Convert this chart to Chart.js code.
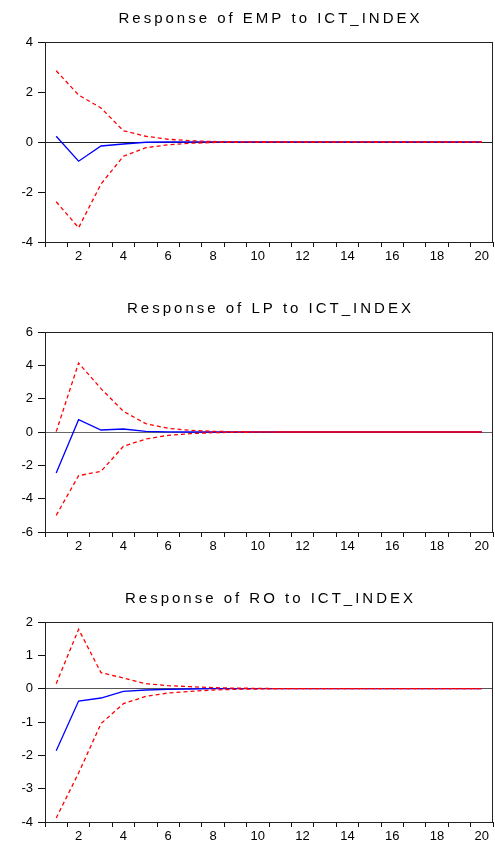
<!DOCTYPE html>
<html>
<head>
<meta charset="utf-8">
<script src="https://cdn.jsdelivr.net/npm/chart.js@4.4.1/dist/chart.umd.min.js"></script>
<style>
  html, body { margin: 0; padding: 0; background: #fff; }
  body { width: 495px; height: 842px; position: relative; overflow: hidden; }
  .panel { position: absolute; left: 0; width: 495px; }
</style>
</head>
<body>
<div class="panel" style="top:0;height:290px"><canvas id="c-emp"></canvas></div>
<div class="panel" style="top:290px;height:290px"><canvas id="c-lp"></canvas></div>
<div class="panel" style="top:580px;height:262px"><canvas id="c-ro"></canvas></div>
<script>
// Periods (horizon)
const periods = Array.from({ length: 20 }, (_, i) => String(i + 1));

// Response of EMP to ICT_INDEX
const empResp  = [0.23, -0.77, -0.16, -0.08, -0.01, 0, 0, 0, 0, 0, 0, 0, 0, 0, 0, 0, 0, 0, 0, 0];
const empUpper = [2.85, 1.88, 1.36, 0.45, 0.23, 0.11, 0.05, 0.02, 0.01, 0, 0, 0, 0, 0, 0, 0, 0, 0, 0, 0];
const empLower = [-2.39, -3.43, -1.68, -0.57, -0.23, -0.11, -0.05, -0.02, -0.01, 0, 0, 0, 0, 0, 0, 0, 0, 0, 0, 0];

// Response of LP to ICT_INDEX
const lpResp  = [-2.46, 0.74, 0.12, 0.18, 0.04, 0.01, 0, 0, 0, 0, 0, 0, 0, 0, 0, 0, 0, 0, 0, 0];
const lpUpper = [0.02, 4.14, 2.6, 1.24, 0.5, 0.22, 0.1, 0.04, 0.02, 0.01, 0, 0, 0, 0, 0, 0, 0, 0, 0, 0];
const lpLower = [-5.0, -2.62, -2.36, -0.86, -0.42, -0.2, -0.1, -0.04, -0.02, -0.01, 0, 0, 0, 0, 0, 0, 0, 0, 0, 0];

// Response of RO to ICT_INDEX
const roResp  = [-1.86, -0.37, -0.28, -0.08, -0.04, -0.02, -0.01, 0, 0, 0, 0, 0, 0, 0, 0, 0, 0, 0, 0, 0];
const roUpper = [0.15, 1.78, 0.48, 0.32, 0.15, 0.09, 0.06, 0.03, 0.015, 0.01, 0, 0, 0, 0, 0, 0, 0, 0, 0, 0];
const roLower = [-3.88, -2.53, -1.05, -0.45, -0.23, -0.13, -0.08, -0.04, -0.02, -0.01, 0, 0, 0, 0, 0, 0, 0, 0, 0, 0];

const FONT = '"Liberation Sans", Arial, sans-serif';

// Box round the plot area + spaced-out title (EViews style)
const framePlugin = {
  id: 'frame',
  beforeDatasetsDraw(chart) {
    const { ctx, chartArea: a } = chart;
    ctx.save();
    ctx.strokeStyle = '#222';
    ctx.lineWidth = 1;
    ctx.strokeRect(Math.round(a.left) + 0.5, Math.round(a.top) + 0.5,
      Math.round(a.right - a.left) - 1, Math.round(a.bottom - a.top));
    ctx.restore();
  },
  afterDraw(chart, args, opts) {
    const { ctx, chartArea: a } = chart;
    ctx.save();
    ctx.font = '15px ' + FONT;
    ctx.fillStyle = '#000';
    ctx.letterSpacing = '3px';
    ctx.textAlign = 'center';
    ctx.textBaseline = 'alphabetic';
    ctx.fillText(opts.text, (a.left + a.right) / 2 + 1.5, a.top - 19);
    ctx.restore();
  }
};

function makeChart(id, title, resp, upper, lower, yMin, yMax, step, xHeight, zeroColor) {
  const dashed = {
    borderColor: '#ff0000', borderWidth: 1.3, borderDash: [4, 3],
    pointRadius: 0, tension: 0, fill: false, order: 0
  };
  return new Chart(document.getElementById(id), {
    type: 'line',
    data: {
      labels: periods,
      datasets: [
        { data: resp, borderColor: '#0000ff', borderWidth: 1.3, pointRadius: 0, tension: 0, fill: false, order: 1 },
        { ...dashed, data: upper },
        { ...dashed, data: lower }
      ]
    },
    options: {
      responsive: true,
      maintainAspectRatio: false,
      animation: false,
      events: [],
      layout: { padding: { left: 0, right: 2, top: 42, bottom: 0 } },
      plugins: {
        legend: { display: false },
        tooltip: { enabled: false },
        title: { display: false },
        frame: { text: title }
      },
      scales: {
        x: {
          offset: true,
          grid: { offset: true, drawOnChartArea: false, drawTicks: true, tickLength: 5, tickColor: '#111' },
          border: { display: true, color: '#111' },
          ticks: {
            autoSkip: false, maxRotation: 0, padding: 2, color: '#000',
            font: { family: FONT, size: 13 },
            callback: (v, i) => ((i + 1) % 2 === 0 ? periods[i] : '')
          },
          afterFit: s => { s.height = xHeight; }
        },
        y: {
          min: yMin, max: yMax,
          grid: {
            drawTicks: true, tickLength: 7, tickColor: '#111',
            color: c => (c.tick && c.tick.value === 0 ? zeroColor : 'rgba(0,0,0,0)')
          },
          border: { display: true, color: '#111' },
          ticks: { stepSize: step, padding: 5, color: '#000', font: { family: FONT, size: 13 } },
          afterFit: s => { s.width = 45; }
        }
      }
    },
    plugins: [framePlugin]
  });
}

makeChart('c-emp', 'Response of EMP to ICT_INDEX', empResp, empUpper, empLower, -4, 4, 2, 48, '#222');
makeChart('c-lp', 'Response of LP to ICT_INDEX', lpResp, lpUpper, lpLower, -6, 6, 2, 48, '#666');
makeChart('c-ro', 'Response of RO to ICT_INDEX', roResp, roUpper, roLower, -4, 2, 1, 20, '#555');
</script>
</body>
</html>
